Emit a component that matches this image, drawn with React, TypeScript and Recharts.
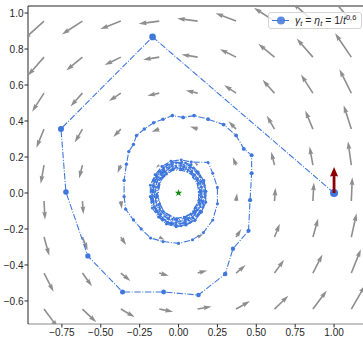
import React from 'react';
import { ScatterChart, Scatter, XAxis, YAxis, ReferenceLine, Legend } from 'recharts';

// ---------- axes ----------
const X_DOMAIN: [number, number] = [-0.968, 1.199];
const Y_DOMAIN: [number, number] = [-0.728, 1.039];
const X_TICKS = [-0.75, -0.5, -0.25, 0, 0.25, 0.5, 0.75, 1.0];
const Y_TICKS = [-0.6, -0.4, -0.2, 0, 0.2, 0.4, 0.6, 0.8, 1.0];

// ---------- vector field (quiver) ----------
const FIELD_X = [-0.865, -0.618, -0.371, -0.124, 0.123, 0.37, 0.617, 0.864, 1.111];
const FIELD_Y = [0.955, 0.755, 0.555, 0.355, 0.155, -0.045, -0.245, -0.445, -0.645];
// horizontal component (constant along each row), vertical component (constant along each column)
const FIELD_U_BY_ROW = [-0.955, -0.755, -0.555, -0.355, -0.155, 0.045, 0.245, 0.445, 0.645];
const FIELD_V_BY_COL = [-0.865, -0.618, -0.371, -0.124, 0.123, 0.37, 0.617, 0.864, 1.111];

// ---------- trajectory ----------
const OUTER_LAP = [
  [1.0, 0.0], [-0.167, 0.867], [-0.756, 0.356], [-0.724, 0.005], [-0.583, -0.35],
  [-0.36, -0.55], [-0.096, -0.55], [0.128, -0.567], [0.3, -0.45],
];
const MIDDLE_LAP = [
  [0.35, -0.31], [0.45, -0.21], [0.46, -0.04], [0.47, 0.11], [0.47, 0.21], [0.42, 0.245],
  [0.37, 0.32], [0.29, 0.38], [0.19, 0.41], [0.1, 0.43], [0.03, 0.42], [-0.04, 0.43],
  [-0.1, 0.41], [-0.16, 0.39], [-0.22, 0.355], [-0.27, 0.32], [-0.29, 0.27], [-0.32, 0.23],
  [-0.335, 0.16], [-0.35, 0.07], [-0.35, -0.02], [-0.34, -0.09], [-0.29, -0.15], [-0.24, -0.2],
  [-0.18, -0.25], [-0.1, -0.27], [0.0, -0.28], [0.09, -0.26], [0.16, -0.22], [0.22, -0.15],
  [0.25, -0.06], [0.25, 0.03], [0.22, 0.11], [0.19, 0.17],
];
const RING_LAP_1 = [
  [0.082, 0.172], [0.017, 0.184], [-0.049, 0.177], [-0.107, 0.147], [-0.151, 0.101], [-0.181, 0.043],
  [-0.182, -0.021], [-0.169, -0.084], [-0.129, -0.134], [-0.078, -0.173], [-0.016, -0.188], [0.047, -0.179],
  [0.104, -0.154], [0.146, -0.107], [0.174, -0.052], [0.175, 0.01], [0.161, 0.07], [0.123, 0.118],
];
const RING_LAP_2 = [
  [0.081, 0.158], [0.02, 0.171], [-0.042, 0.171], [-0.096, 0.139], [-0.143, 0.099], [-0.164, 0.04],
  [-0.173, -0.021], [-0.154, -0.079], [-0.122, -0.132], [-0.07, -0.165], [-0.011, -0.185], [0.05, -0.174],
  [0.107, -0.151], [0.148, -0.105], [0.176, -0.051], [0.177, 0.01], [0.164, 0.069], [0.127, 0.117],
];
const RING_LAP_3 = [
  [0.073, 0.151], [0.015, 0.162], [-0.044, 0.16], [-0.095, 0.131], [-0.139, 0.093], [-0.159, 0.038],
  [-0.168, -0.02], [-0.156, -0.078], [-0.118, -0.123], [-0.073, -0.162], [-0.015, -0.174], [0.044, -0.167],
  [0.095, -0.14], [0.138, -0.102], [0.158, -0.047], [0.166, 0.01], [0.148, 0.064], [0.117, 0.112],
];
const RING_LAP_4 = [
  [0.046, 0.167], [-0.015, 0.168], [-0.076, 0.157], [-0.124, 0.119], [-0.163, 0.071], [-0.175, 0.01],
  [-0.172, -0.051], [-0.143, -0.105], [-0.103, -0.152], [-0.046, -0.175], [0.016, -0.184], [0.074, -0.164],
  [0.121, -0.126], [0.158, -0.079], [0.169, -0.02], [0.167, 0.04], [0.138, 0.091], [0.099, 0.136],
];
const RING_LAP_5 = [
  [0.038, 0.15], [-0.018, 0.151], [-0.074, 0.141], [-0.117, 0.105], [-0.153, 0.061], [-0.162, 0.006],
  [-0.161, -0.05], [-0.135, -0.1], [-0.099, -0.143], [-0.046, -0.164], [0.01, -0.171], [0.063, -0.152],
  [0.107, -0.119], [0.141, -0.076], [0.151, -0.022], [0.15, 0.033], [0.123, 0.081], [0.087, 0.121],
];
const RING_LAP_6 = [
  [0.068, 0.14], [0.014, 0.15], [-0.041, 0.149], [-0.088, 0.121], [-0.129, 0.086], [-0.148, 0.035],
  [-0.156, -0.019], [-0.14, -0.071], [-0.113, -0.118], [-0.066, -0.146], [-0.014, -0.163], [0.04, -0.154],
  [0.09, -0.134], [0.124, -0.092], [0.151, -0.045], [0.15, 0.008], [0.14, 0.061], [0.106, 0.101],
];
const RING_LAP_7 = [
  [0.039, 0.142], [-0.013, 0.142], [-0.065, 0.134], [-0.105, 0.1], [-0.14, 0.06], [-0.149, 0.008],
  [-0.147, -0.044], [-0.121, -0.09], [-0.088, -0.13], [-0.039, -0.149], [0.013, -0.157], [0.063, -0.139],
  [0.103, -0.108], [0.135, -0.068], [0.143, -0.018], [0.142, 0.033], [0.117, 0.077], [0.084, 0.115],
];
const RING_LAP_8 = [
  [0.062, 0.125], [0.014, 0.134], [-0.035, 0.134], [-0.077, 0.109], [-0.113, 0.078], [-0.129, 0.032],
  [-0.137, -0.015], [-0.122, -0.061], [-0.098, -0.103], [-0.056, -0.127], [-0.01, -0.144], [0.037, -0.134],
  [0.082, -0.118], [0.113, -0.08], [0.136, -0.039], [0.136, 0.009], [0.128, 0.056], [0.097, 0.092],
];
const RING_LAP_9 = [
  [0.063, 0.129], [0.013, 0.138], [-0.038, 0.137], [-0.082, 0.112], [-0.12, 0.079], [-0.136, 0.032],
  [-0.144, -0.018], [-0.129, -0.065], [-0.104, -0.109], [-0.06, -0.135], [-0.013, -0.15], [0.037, -0.141],
  [0.083, -0.123], [0.114, -0.085], [0.138, -0.042], [0.137, 0.007], [0.129, 0.055], [0.097, 0.092],
];
const RING_LAP_10 = [
  [0.057, 0.118], [0.012, 0.127], [-0.035, 0.127], [-0.076, 0.103], [-0.111, 0.073], [-0.126, 0.029],
  [-0.133, -0.017], [-0.119, -0.06], [-0.096, -0.101], [-0.056, -0.125], [-0.012, -0.141], [0.034, -0.132],
  [0.077, -0.116], [0.106, -0.08], [0.129, -0.04], [0.129, 0.006], [0.121, 0.052], [0.092, 0.087],
];

const START_POINT = [1.0, 0.0];
const START_GRADIENT = [0, 1];
const SADDLE_POINT = [0, 0];

// ---------- styles ----------
const FONT = "'Liberation Sans Narrow', 'Liberation Sans', Arial, sans-serif";
const BLUE = '#3f77dc';
const ARROW_GREY = '#8e8e8e';
const AXIS_DARK = '#262626';
const DASH_DOT = '6.4 1.6 1 1.6';
const QUIVER_PX_PER_UNIT = 21.5;

// ---------- tables for the library ----------
const fieldTable = FIELD_Y.flatMap((y, r) =>
  FIELD_X.map((x, c) => ({ x, y, u: FIELD_U_BY_ROW[r], v: FIELD_V_BY_COL[c] }))
);
const trajectoryTable = [
  ...OUTER_LAP, ...MIDDLE_LAP, ...RING_LAP_1, ...RING_LAP_2, ...RING_LAP_3, ...RING_LAP_4,
  ...RING_LAP_5, ...RING_LAP_6, ...RING_LAP_7, ...RING_LAP_8, ...RING_LAP_9, ...RING_LAP_10,
].map(([x, y], i) => ({ x, y, i }));
const startTable = [{ x: START_POINT[0], y: START_POINT[1], u: START_GRADIENT[0], v: START_GRADIENT[1] }];
const saddleTable = [{ x: SADDLE_POINT[0], y: SADDLE_POINT[1] }];

function arrowPath(x0: number, y0: number, dx: number, dy: number, w: number, hwF: number, hlF: number, halF: number) {
  const L = Math.hypot(dx, dy);
  if (L < 0.05) return '';
  const ux = dx / L, uy = dy / L;
  const nx = -uy, ny = ux;
  let hw = (w * hwF) / 2, hl = w * hlF, hal = w * halF, sw = w / 2;
  if (L < hl) {
    const s = L / hl;
    hw *= s; hl *= s; hal *= s; sw *= s;
  }
  const pts = [[0, -sw], [L - hal, -sw], [L - hl, -hw], [L, 0], [L - hl, hw], [L - hal, sw], [0, sw]];
  return 'M' + pts.map(([a, b]) => `${(x0 + a * ux + b * nx).toFixed(2)},${(y0 + a * uy + b * ny).toFixed(2)}`).join('L') + 'Z';
}

const QuiverArrow = (props: any) => {
  const { cx, cy, payload } = props;
  if (cx == null || cy == null) return <g />;
  const d = arrowPath(cx, cy, payload.u * QUIVER_PX_PER_UNIT, -payload.v * QUIVER_PX_PER_UNIT, 1.6, 3, 5, 4.5);
  return <path d={d} fill={ARROW_GREY} />;
};

const StartArrow = (props: any) => {
  const { cx, cy, payload } = props;
  if (cx == null || cy == null) return <g />;
  const d = arrowPath(cx, cy, payload.u * 26, -payload.v * 26, 2.8, 2.9, 3.4, 3.2);
  return <path d={d} fill="#8b0000" />;
};

const TrajectoryDot = (props: any) => {
  const { cx, cy, payload } = props;
  if (cx == null || cy == null) return <g />;
  const r = 4 * Math.pow(payload.i + 1, -0.26);
  return <circle cx={cx} cy={cy} r={r} fill={BLUE} />;
};

const StarShape = (props: any) => {
  const { cx, cy } = props;
  if (cx == null || cy == null) return <g />;
  const pts: string[] = [];
  for (let k = 0; k < 10; k++) {
    const r = k % 2 === 0 ? 3.8 : 1.6;
    const a = -Math.PI / 2 + (k * Math.PI) / 5;
    pts.push(`${(cx + r * Math.cos(a)).toFixed(2)},${(cy + r * Math.sin(a)).toFixed(2)}`);
  }
  return <polygon points={pts.join(' ')} fill="#128a12" />;
};

const fmtY = (v: number) => (v < 0 ? '\u2212' : '') + Math.abs(v).toFixed(1);
const fmtX = (v: number) => (v < 0 ? '\u2212' : '') + Math.abs(v).toFixed(2);

const sub: React.CSSProperties = { fontSize: 7.5, position: 'relative', top: 2, fontStyle: 'italic' };
const sup: React.CSSProperties = { fontSize: 7.5, position: 'relative', top: -4 };

const LegendBox = () => (
  <div
    style={{
      boxSizing: 'border-box', width: 94, height: 17, border: '1px solid #d4d4d4', borderRadius: 3,
      background: 'rgba(255,255,255,0.8)', display: 'flex', alignItems: 'center',
      fontFamily: FONT, fontSize: 10.5, color: '#262626', whiteSpace: 'nowrap', lineHeight: '15px',
    }}
  >
    <svg width={26} height={15} style={{ flex: 'none' }}>
      <line x1={3} x2={21} y1={7.5} y2={7.5} stroke={BLUE} strokeWidth={1} strokeDasharray={DASH_DOT} />
      <circle cx={12} cy={7.5} r={4} fill={BLUE} opacity={0.85} />
    </svg>
    <span>
      <i>γ</i><span style={sub}>t</span> = <i>η</i><span style={sub}>t</span> = 1/<i>t</i><span style={sup}>0.6</span>
    </span>
  </div>
);

export default function App() {
  const tick = { fontSize: 10, fill: '#262626', fontFamily: FONT };
  return (
    <div style={{ position: 'absolute', left: 0, top: 0, width: 363, height: 337, overflow: 'hidden', background: '#fff' }}>
      <ScatterChart width={380} height={337} margin={{ top: 6, right: 15, bottom: 0, left: 0 }}>
        <XAxis
          type="number" dataKey="x" domain={X_DOMAIN} ticks={X_TICKS} allowDataOverflow
          height={13} tickSize={3.5} tickMargin={1} tick={tick} tickFormatter={fmtX}
          axisLine={{ stroke: '#8a8a8a' }} tickLine={{ stroke: AXIS_DARK }} interval={0}
        />
        <YAxis
          type="number" dataKey="y" domain={Y_DOMAIN} ticks={Y_TICKS} allowDataOverflow
          width={28} tickSize={3.5} tickMargin={1} tick={tick} tickFormatter={fmtY}
          axisLine={{ stroke: AXIS_DARK }} tickLine={{ stroke: AXIS_DARK }} interval={0}
        />
        <ReferenceLine y={Y_DOMAIN[1]} stroke={AXIS_DARK} strokeWidth={1} />
        <Scatter data={fieldTable} shape={QuiverArrow} isAnimationActive={false} legendType="none" />
        <Scatter
          name="trajectory" data={trajectoryTable} shape={TrajectoryDot} isAnimationActive={false}
          fill={BLUE}
          line={{ stroke: BLUE, strokeWidth: 1.1, strokeDasharray: DASH_DOT }}
        />
        <Scatter data={startTable} shape={StartArrow} isAnimationActive={false} legendType="none" />
        <Scatter data={saddleTable} shape={StarShape} isAnimationActive={false} legendType="none" />
        <Legend
          verticalAlign="middle" align="center" layout="horizontal"
          wrapperStyle={{ top: 12, left: 268, width: 94, height: 17 }}
          content={() => <LegendBox />}
        />
      </ScatterChart>
    </div>
  );
}
